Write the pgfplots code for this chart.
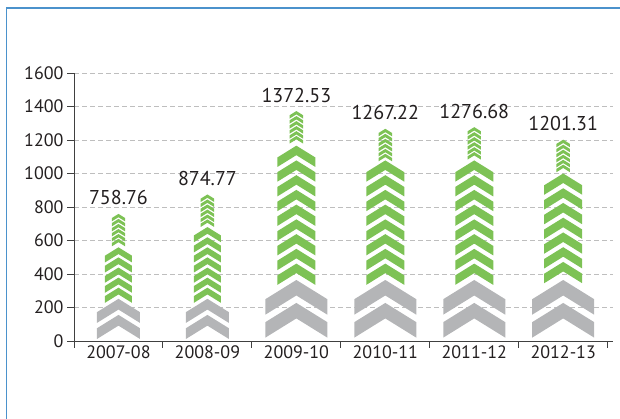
\documentclass[border=0pt]{standalone}
\usepackage{pgfplots}
\pgfplotsset{compat=1.18}
\usepackage{fontspec}
\setmainfont{PT Sans}
\definecolor{cgreen}{RGB}{125,194,85}
\definecolor{cgray}{RGB}{180,181,183}
\definecolor{ctext}{RGB}{35,31,32}
\definecolor{cframe}{RGB}{75,146,204}
\definecolor{cgrid}{RGB}{190,190,190}
\pgfdeclareplotmark{chev}{%
  \pgfpathmoveto{\pgfpoint{-\pgfplotmarksize}{0pt}}%
  \pgfpathlineto{\pgfpoint{-\pgfplotmarksize}{0.5\pgfplotmarksize}}%
  \pgfpathlineto{\pgfpoint{0pt}{1.12\pgfplotmarksize}}%
  \pgfpathlineto{\pgfpoint{\pgfplotmarksize}{0.5\pgfplotmarksize}}%
  \pgfpathlineto{\pgfpoint{\pgfplotmarksize}{0pt}}%
  \pgfpathlineto{\pgfpoint{0pt}{0.62\pgfplotmarksize}}%
  \pgfpathclose
  \pgfusepathqfill
}
\begin{document}
\begin{tikzpicture}
\useasboundingbox (0,0) rectangle (620pt,419pt);
\draw[cframe, line width=1.8pt] (6.5pt,-5pt) -- (6.5pt,411pt) -- (630pt,411pt);
\begin{axis}[
  at={(74pt,78pt)}, anchor=south west,
  scale only axis, width=539pt, height=268pt,
  xmin=-0.5, xmax=5.56, ymin=0, ymax=1600,
  axis lines=left, axis line style={-, line width=0.9pt, color=black!75},
  xtick={-0.5,0.5,...,5.5}, xticklabels={},
  extra x ticks={0,1,2,3,4,5},
  extra x tick labels={2007-08,2008-09,2009-10,2010-11,2011-12,2012-13},
  extra x tick style={major tick length=0pt, grid=none},
  ytick={0,200,...,1600},
  tick align=outside, major tick length=7pt,
  tick style={line width=0.9pt, color=black!75},
  ymajorgrids, grid style={cgrid, line width=0.8pt, dash pattern=on 4.5pt off 3.5pt},
  /pgf/number format/assume math mode=true,
  /pgf/number format/1000 sep={},
  ticklabel style={font=\fontsize{18}{21}\selectfont, color=ctext},
  xticklabel style={yshift=-1pt},
  clip=false,
]
% gray chevrons, wide bars
\addplot[only marks, mark=chev, mark size=31pt, color=cgray] coordinates {
(2,20)(2,157)(3,20)(3,157)(4,20)(4,157)(5,20)(5,157)};
% gray chevrons, narrow bars
\addplot[only marks, mark=chev, mark size=21.5pt, color=cgray] coordinates {
(0,12)(0,108)(1,12)(1,108)};
% green chevrons, wide bars
\addplot[only marks, mark=chev, mark size=19pt, color=cgreen] coordinates {
(2,335)(2,423)(2,511)(2,599)(2,687)(2,775)(2,863)(2,951)(2,1039)
(3,335)(3,423)(3,511)(3,599)(3,687)(3,775)(3,863)(3,951)
(4,335)(4,423)(4,511)(4,599)(4,687)(4,775)(4,863)(4,951)
(5,345)(5,433)(5,521)(5,609)(5,697)(5,785)(5,873)};
% green chevrons, narrow bars
\addplot[only marks, mark=chev, mark size=13.5pt, color=cgreen] coordinates {
(0,228)(0,288)(0,348)(0,409)(0,469)
(1,228)(1,288)(1,348)(1,409)(1,469)(1,529)(1,590)};
% small green chevrons at the top
\addplot[only marks, mark=chev, mark size=6.7pt, color=cgreen] coordinates {
(0,714)(0,684)(0,654)(0,624)(0,594)(0,565)
(1,830)(1,800)(1,770)(1,740)(1,710)(1,681)
(2,1328)(2,1298)(2,1268)(2,1238)(2,1208)(2,1179)
(3,1222)(3,1192)(3,1162)(3,1132)(3,1102)(3,1073)
(4,1232)(4,1202)(4,1172)(4,1142)(4,1112)(4,1083)
(5,1157)(5,1127)(5,1097)(5,1067)(5,1037)(5,1008)};
% value labels
\addplot[draw=none, mark=none, nodes near coords, point meta=explicit symbolic,
  every node near coord/.append style={anchor=base, yshift=9pt, inner sep=0pt,
  font=\fontsize{20}{23}\selectfont, color=ctext}] coordinates {
(0,758.76)[758.76] (1,874.77)[874.77] (2,1372.53)[1372.53]
(3,1267.22)[1267.22] (4,1276.68)[1276.68] (5,1201.31)[1201.31]};
\end{axis}
\end{tikzpicture}
\end{document}
